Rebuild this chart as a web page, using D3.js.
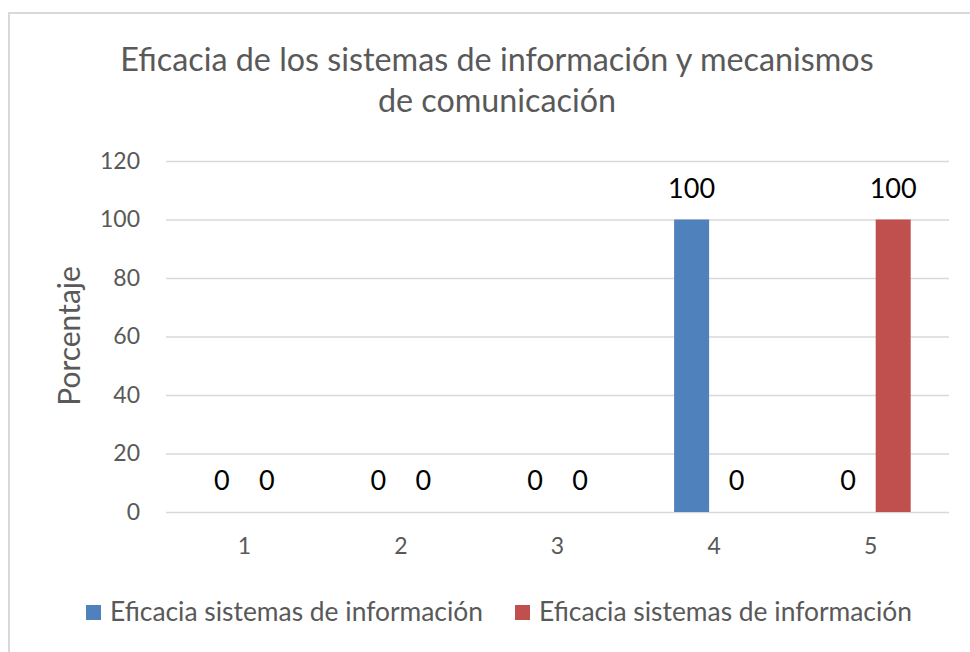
<!DOCTYPE html>
<html><head><meta charset="utf-8">
<script src="https://cdn.jsdelivr.net/npm/d3@7"></script>
<style>
html,body{margin:0;padding:0;background:#fff;}
svg{display:block;font-family:Lato,"Open Sans",sans-serif;}
</style></head>
<body>
<svg id="c" width="970" height="652"></svg>
<script>
const categories = ["1","2","3","4","5"];
const seriesNames = ["Eficacia sistemas de información","Eficacia sistemas de información"];
const series1 = [0,0,0,100,0];
const series2 = [0,0,0,0,100];
const yTicks = [0,20,40,60,80,100,120];
const titleLines = ["Eficacia de los sistemas de información y mecanismos","de comunicación"];
const yTitle = "Porcentaje";
const colors = ["#4f81bd","#c0504d"];

const svg = d3.select("#c");
svg.append("rect").attr("x",9).attr("y",13).attr("width",990).attr("height",700)
  .attr("fill","#fff").attr("stroke","#d9d9d9").attr("stroke-width",2);

const L=166,R=949,T=161,B=512;
const x = d3.scaleBand().domain(categories).range([L,R]).padding(0);
const bw = x.bandwidth();
const keys = [0,1];
const x1 = d3.scaleBand().domain(keys).range([bw/2-45,bw/2+45]).paddingInner(0.222).paddingOuter(0.111);
const y = d3.scaleLinear().domain([0,120]).range([B,T]);

// gridlines
const yAxis = d3.axisLeft(y).tickValues(yTicks).tickSize(-(R-L)).tickPadding(26);
const gy = svg.append("g").attr("transform",`translate(${L},0)`).call(yAxis);
gy.select(".domain").remove();
gy.selectAll(".tick line").attr("stroke","#d9d9d9").attr("stroke-width",1.3);
gy.selectAll(".tick text").attr("fill","#595959").attr("font-size",23).attr("font-family","Lato");

const xAxis = d3.axisBottom(x).tickSize(0).tickPadding(26);
const gx = svg.append("g").attr("transform",`translate(0,${B})`).call(xAxis);
gx.select(".domain").remove();
gx.selectAll(".tick text").attr("fill","#595959").attr("font-size",23).attr("font-family","Lato");

const data = categories.map((c,i)=>({c, v:[series1[i],series2[i]]}));
const g = svg.append("g");
const grp = g.selectAll("g.cat").data(data).join("g").attr("class","cat")
  .attr("transform",d=>`translate(${x(d.c)},0)`);
grp.selectAll("rect").data(d=>d.v.map((v,k)=>({k,v}))).join("rect")
  .attr("x",d=>x1(d.k)).attr("width",x1.bandwidth())
  .attr("y",d=>y(d.v)).attr("height",d=>B-y(d.v))
  .attr("fill",d=>colors[d.k]);
grp.selectAll("text").data(d=>d.v.map((v,k)=>({k,v}))).join("text")
  .attr("x",d=>x1(d.k)+x1.bandwidth()/2).attr("y",d=>y(d.v)-22)
  .attr("text-anchor","middle").attr("font-size",27).attr("fill","#000")
  .text(d=>d.v);

// title
svg.append("g").selectAll("text").data(titleLines).join("text")
  .attr("x",497).attr("y",(d,i)=>71+i*41).attr("text-anchor","middle")
  .attr("font-size",32.3).attr("fill","#595959").text(d=>d);

// y title
svg.append("text").attr("transform","translate(80,336) rotate(-90)")
  .attr("text-anchor","middle").attr("font-size",30).attr("fill","#595959").text(yTitle);

// legend
const legX=[86,515];
const lg = svg.append("g").selectAll("g").data(seriesNames).join("g")
  .attr("transform",(d,i)=>`translate(${legX[i]},605)`);
lg.append("rect").attr("width",15).attr("height",15).attr("fill",(d,i)=>colors[i]);
lg.append("text").attr("x",24).attr("y",16).attr("font-size",26.4).attr("fill","#595959").text(d=>d);
</script>
</body></html>
